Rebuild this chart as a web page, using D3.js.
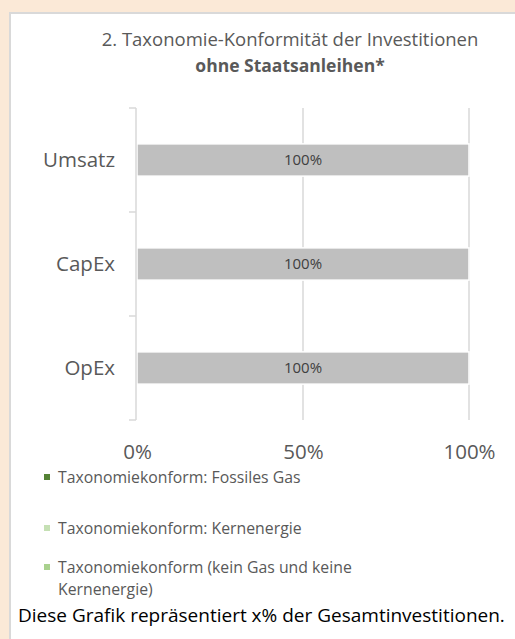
<!DOCTYPE html>
<html>
<head>
<meta charset="utf-8">
<script src="https://cdn.jsdelivr.net/npm/d3@7"></script>
<style>
  html, body { margin: 0; padding: 0; background: #fbe9d7; }
  svg { display: block; font-family: "Open Sans", sans-serif; }
</style>
</head>
<body>
<div id="chart"></div>
<script>
// Daten
const categories = ["Umsatz", "CapEx", "OpEx"];
const fossilGas = [0, 0, 0];
const nuclear = [0, 0, 0];
const alignedOther = [0, 0, 0];
const notAligned = [100, 100, 100];
const xTicks = [0, 50, 100];
const legendLabels = [
    ["Taxonomiekonform: Fossiles Gas"],
    ["Taxonomiekonform: Kernenergie"],
    ["Taxonomiekonform (kein Gas und keine", "Kernenergie)"]
];
const seriesColors = ["#548235", "#c5e0b4", "#a9d18e", "#bfbfbf"];

const W = 515, H = 639;
const svg = d3.select("#chart").append("svg")
    .attr("width", W)
    .attr("height", H);

// Hintergrund / Panel
svg.append("rect")
    .attr("x", 10).attr("y", 13)
    .attr("width", W).attr("height", H)
    .attr("fill", "#fff")
    .attr("stroke", "#d9d9d9")
    .attr("stroke-width", 2);

// Titel
const title = svg.append("text")
    .attr("text-anchor", "middle")
    .attr("fill", "#595959")
    .style("font-size", "18.5px");
title.append("tspan").attr("x", 290).attr("y", 46)
    .text("2. Taxonomie-Konformität der Investitionen");
title.append("tspan").attr("x", 290).attr("y", 72)
    .style("font-weight", "bold")
    .style("font-size", "17.5px")
    .text("ohne Staatsanleihen*");

const plotW = 332, plotH = 312;
const g = svg.append("g")
    .attr("transform", "translate(137,108)");

const x = d3.scaleLinear().domain([0, 100]).range([0, plotW]);
const y = d3.scaleBand().domain(categories).range([0, plotH]).paddingInner(0.69).paddingOuter(0.345);

// Gitterlinien
g.selectAll(".grid")
    .data(xTicks.slice(1))
    .enter().append("line")
    .attr("x1", d => x(d)).attr("x2", d => x(d))
    .attr("y1", 0).attr("y2", plotH)
    .attr("stroke", "#d9d9d9")
    .attr("stroke-width", 1.5);

// Gestapelte Balken
const rows = categories.map((c, i) => ({
    cat: c, gas: fossilGas[i], nuc: nuclear[i], oth: alignedOther[i], rest: notAligned[i]
}));
const stack = d3.stack().keys(["gas", "nuc", "oth", "rest"])(rows);

g.selectAll(".layer")
    .data(stack)
    .enter().append("g")
    .attr("fill", (d, i) => seriesColors[i])
    .selectAll("rect")
    .data(d => d.filter(p => p[1] - p[0] > 0))
    .enter().append("rect")
    .attr("x", d => x(d[0]))
    .attr("y", d => y(d.data.cat))
    .attr("width", d => x(d[1]) - x(d[0]))
    .attr("height", y.bandwidth())
    .attr("stroke", "#fff")
    .attr("stroke-width", 1.5);

// Balkenbeschriftung
g.selectAll(".lbl")
    .data(rows)
    .enter().append("text")
    .attr("x", d => x(d.rest / 2))
    .attr("y", d => y(d.cat) + y.bandwidth() / 2)
    .attr("dy", "0.35em")
    .attr("text-anchor", "middle")
    .attr("fill", "#404040")
    .style("font-size", "15px")
    .text(d => d.rest + "%");

// Y-Achse
const yAxis = g.append("g")
    .call(d3.axisLeft(y).tickSize(0).tickPadding(22));
yAxis.select(".domain").remove();
yAxis.selectAll("text")
    .attr("fill", "#595959")
    .style("font-size", "20.5px")
    .style("font-family", "Open Sans, sans-serif");

g.append("line")
    .attr("x1", -1).attr("x2", -1)
    .attr("y1", 0).attr("y2", plotH)
    .attr("stroke", "#d9d9d9").attr("stroke-width", 1.5);
g.selectAll(".ytick")
    .data([0, 1, 2, 3])
    .enter().append("line")
    .attr("x1", -8).attr("x2", -1)
    .attr("y1", d => d * y.step()).attr("y2", d => d * y.step())
    .attr("stroke", "#d9d9d9").attr("stroke-width", 1.5);

// X-Achse
const xAxis = g.append("g")
    .attr("transform", `translate(0,${plotH})`)
    .call(d3.axisBottom(x).tickValues(xTicks).tickSize(0).tickPadding(24).tickFormat(d => d + "%"));
xAxis.select(".domain").remove();
xAxis.selectAll("text")
    .attr("fill", "#595959")
    .style("font-size", "20.5px")
    .style("font-family", "Open Sans, sans-serif");

// Legende
const legendY = [477, 528, 567];
const legend = svg.append("g");
legendLabels.forEach((lines, i) => {
    legend.append("rect")
        .attr("x", 44).attr("y", legendY[i] - 3)
        .attr("width", 6).attr("height", 6)
        .attr("fill", seriesColors[i]);
    const t = legend.append("text")
        .attr("fill", "#595959")
        .style("font-size", "15.8px");
    lines.forEach((ln, j) => {
        t.append("tspan")
            .attr("x", 58)
            .attr("y", legendY[i] + j * 22)
            .attr("dy", "0.35em")
            .text(ln);
    });
});

// Fußnote
svg.append("text")
    .attr("x", 18).attr("y", 622)
    .attr("fill", "#000")
    .style("font-size", "19px")
    .text("Diese Grafik repräsentiert x% der Gesamtinvestitionen.");
</script>
</body>
</html>
